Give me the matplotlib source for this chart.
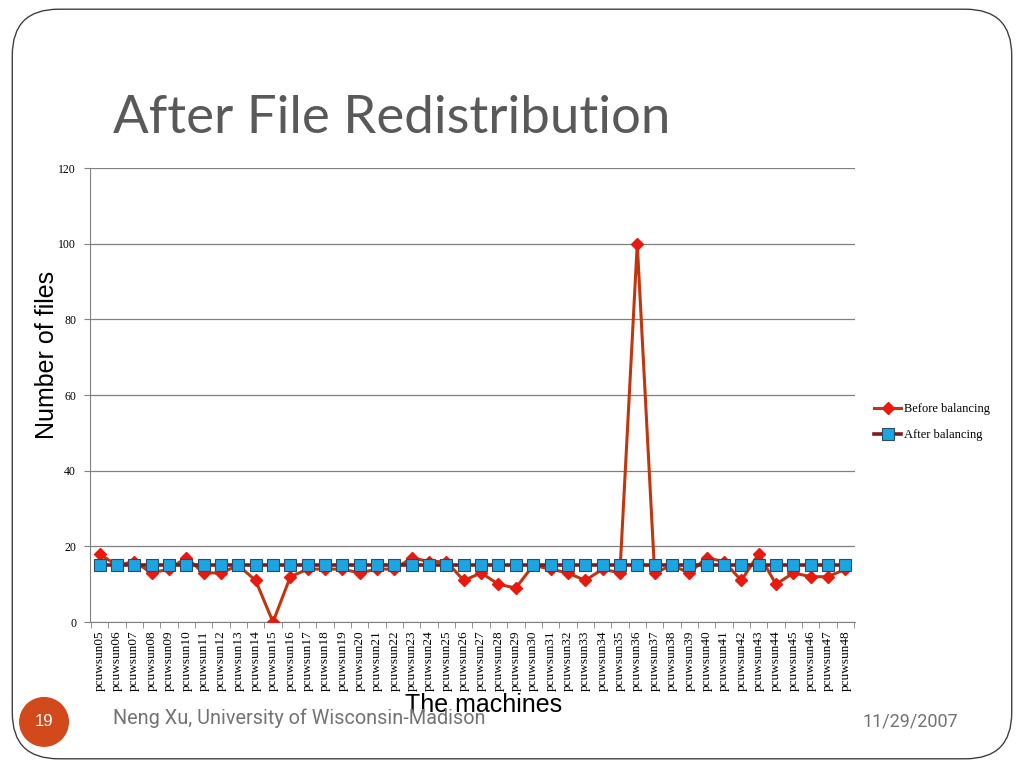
import numpy as np
import matplotlib
matplotlib.use("Agg")
import matplotlib.pyplot as plt
from matplotlib.patches import FancyBboxPatch, Ellipse

machines = ["pcuwsun%02d" % n for n in range(5, 49)]
before = [18, 15, 16, 13, 14, 17, 13, 13, 15, 11, 0, 12, 14, 14, 14, 13, 14, 14,
          17, 16, 16, 11, 13, 10, 9, 15, 14, 13, 11, 14, 13, 100, 13, 15, 13, 17,
          16, 11, 18, 10, 13, 12, 12, 14]
after = [15] * len(machines)
y_ticks = [0, 20, 40, 60, 80, 100, 120]

fig = plt.figure(figsize=(10.24, 7.68), dpi=100)

# slide frame
frame = FancyBboxPatch((0.012, 0.012), 0.976, 0.976, boxstyle="round,pad=0,rounding_size=0.045",
                       transform=fig.transFigure, facecolor="none", edgecolor="#404040",
                       linewidth=1.0, mutation_aspect=1024 / 768, zorder=-1)
fig.add_artist(frame)

fig.text(0.110, 0.846, "After File Redistribution", fontsize=38, color="#595959",
         family="Lato", va="center", ha="left")

ax = fig.add_axes([0.0879, 0.190, 0.747, 0.591])
x = np.arange(len(machines))
ax.plot(x, before, color="#c0370f", linewidth=2.2, marker="D", markersize=6,
        markerfacecolor="#e8190e", markeredgecolor="#e8190e", label="Before balancing", zorder=3)
ax.plot(x, after, color="#7f1a1a", linewidth=2.6, marker="s", markersize=8,
        markerfacecolor="#1ba6e3", markeredgecolor="#2a4a6a", markeredgewidth=0.8,
        label="After balancing", zorder=4)

ax.set_xlim(-0.55, len(machines) - 0.45)
ax.set_ylim(0, 120)
ax.set_yticks(y_ticks)
ax.set_yticklabels([str(v) for v in y_ticks], family="Liberation Serif", fontsize=8.5)
ax.yaxis.grid(True, color="#808080", linewidth=0.9)
ax.set_axisbelow(True)
ax.set_xticks(x)
ax.set_xticklabels(machines, rotation=90, family="Liberation Serif", fontsize=9.5)
ax.set_xticks(np.arange(-0.5, len(machines), 1.0), minor=True)
ax.tick_params(axis="x", which="major", length=0, pad=6)
ax.tick_params(axis="x", which="minor", length=4, color="#808080")
ax.tick_params(axis="y", length=4, color="#808080", pad=6)
for s in ["top", "right"]:
    ax.spines[s].set_visible(False)
ax.spines["left"].set_color("#808080")
ax.spines["bottom"].set_color("#808080")

fig.text(0.046, 0.538, "Number of files", family="Liberation Sans", fontsize=18,
         rotation=90, ha="center", va="center")
fig.text(0.472, 0.082, "The machines", family="Liberation Sans", fontsize=18,
         ha="center", va="center")

leg = ax.legend(loc="center left", bbox_to_anchor=(1.01, 0.44), frameon=False,
                prop={"family": "Liberation Serif", "size": 9}, handlelength=2.2,
                labelspacing=1.1, handletextpad=0.2)

# footer
fig.add_artist(Ellipse((0.043, 0.060), 50 / 1024, 50 / 768, transform=fig.transFigure,
                       facecolor="#d24a1c", edgecolor="none"))
fig.text(0.043, 0.060, "19", color="white", fontsize=12, family="Liberation Sans",
         ha="center", va="center")
fig.text(0.110, 0.065, "Neng Xu, University of Wisconsin-Madison", color="#737373",
         fontsize=14.3, family="Roboto", ha="left", va="center")
fig.text(0.936, 0.060, "11/29/2007", color="#737373", fontsize=13,
         family="Roboto", ha="right", va="center")

fig.savefig("out.png", dpi=100)
